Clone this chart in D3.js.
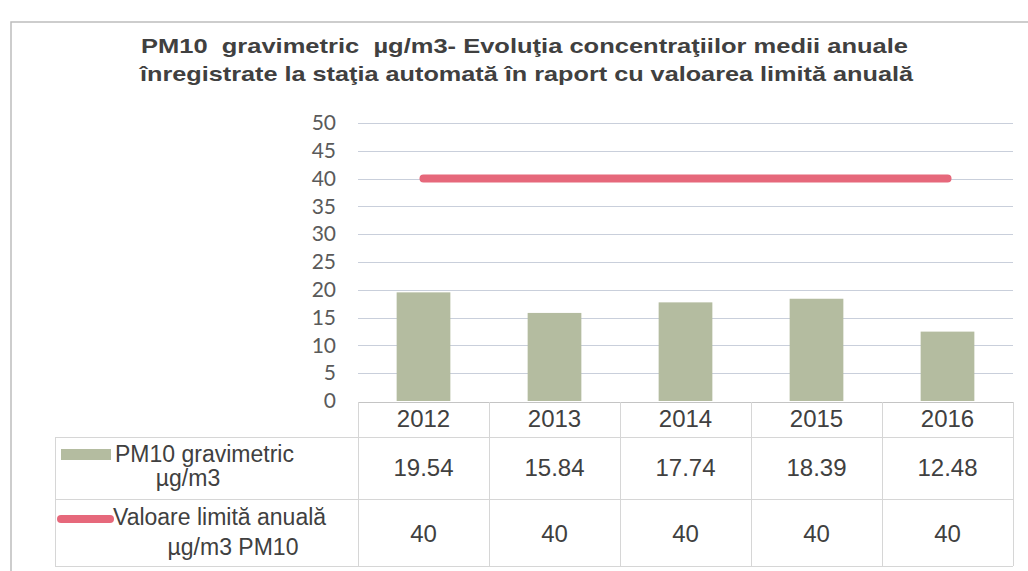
<!DOCTYPE html>
<html>
<head>
<meta charset="utf-8">
<script src="https://cdn.jsdelivr.net/npm/d3@7"></script>
<style>
  body { margin: 0; background: #fff; }
  svg { display: block; }
</style>
</head>
<body>
<div id="chart"></div>
<script>
// Data
const years = ['2012', '2013', '2014', '2015', '2016'];
const pm10Values = [19.54, 15.84, 17.74, 18.39, 12.48];
const limitValues = [40, 40, 40, 40, 40];
const yMax = 50;
const titleLines = [
    'PM10  gravimetric  µg/m3- Evoluţia concentraţiilor medii anuale',
    'înregistrate la staţia automată în raport cu valoarea limită anuală'
];
const pm10Label = ['PM10 gravimetric', 'µg/m3'];
const limitLabel = ['Valoare limită anuală', 'µg/m3 PM10'];

function renderChart(container) {
    const width = 1028;
    const height = 571;

    const plot = { left: 358, right: 1013, top: 123, bottom: 401 };
    const rows = { header: 437, first: 499, second: 566, labelLeft: 55 };

    const barColor = '#b4bca0';
    const lineColor = '#e6687b';
    const textColor = '#404040';
    const gridColor = '#c9cfdb';
    const tableColor = '#d6d6d6';
    const cellFont = '"Liberation Sans", Arial, sans-serif';

    const svg = d3.create('svg')
        .attr('width', width)
        .attr('height', height)
        .attr('viewBox', [0, 0, width, height]);

    // Chart frame (partly cut off in the scan)
    svg.append('path')
        .attr('d', `M11,${height} V22 H${width}`)
        .attr('fill', 'none')
        .attr('stroke', '#bdbdbd')
        .attr('stroke-width', 1.5);

    // Title - the scan is stretched sideways, so fit each line to its width
    const titleSpans = [[141, 908], [140, 913]];
    svg.append('g')
        .selectAll('text')
        .data(titleLines)
        .join('text')
        .attr('x', (d, i) => titleSpans[i][0])
        .attr('y', (d, i) => 53 + i * 28)
        .attr('textLength', (d, i) => titleSpans[i][1] - titleSpans[i][0])
        .attr('lengthAdjust', 'spacingAndGlyphs')
        .style('white-space', 'pre')
        .style('font-family', cellFont)
        .style('font-weight', 'bold')
        .style('font-size', '21px')
        .style('fill', textColor)
        .text(d => d);

    // Scales
    const x = d3.scaleBand()
        .domain(years)
        .range([plot.left, plot.right]);

    const y = d3.scaleLinear()
        .domain([0, yMax])
        .range([plot.bottom, plot.top]);

    const barWidth = x.bandwidth() * 0.41;

    // Gridlines
    svg.append('g')
        .selectAll('line')
        .data(y.ticks(10).filter(t => t > 0))
        .join('line')
        .attr('x1', plot.left)
        .attr('x2', plot.right)
        .attr('y1', d => Math.round(y(d)) + 0.5)
        .attr('y2', d => Math.round(y(d)) + 0.5)
        .attr('stroke', gridColor)
        .attr('stroke-width', 1);

    // Y axis labels
    const yAxis = svg.append('g')
        .attr('transform', `translate(${plot.left - 22},0)`)
        .call(d3.axisLeft(y).ticks(10).tickSize(0).tickPadding(0));
    yAxis.select('.domain').remove();
    yAxis.selectAll('text')
        .style('font-family', 'Lato, "Open Sans", sans-serif')
        .style('font-size', '21px')
        .style('fill', '#5a5a5a');

    // Bars
    svg.append('g')
        .selectAll('rect')
        .data(pm10Values)
        .join('rect')
        .attr('x', (d, i) => x(years[i]) + (x.bandwidth() - barWidth) / 2)
        .attr('y', d => y(d))
        .attr('width', barWidth)
        .attr('height', d => y(0) - y(d))
        .attr('fill', barColor);

    // Limit line
    const line = d3.line()
        .x((d, i) => x(years[i]) + x.bandwidth() / 2)
        .y(d => y(d));

    svg.append('path')
        .datum(limitValues)
        .attr('d', line)
        .attr('fill', 'none')
        .attr('stroke', lineColor)
        .attr('stroke-width', 8)
        .attr('stroke-linecap', 'round');

    // Data table
    const table = svg.append('g')
        .attr('stroke', tableColor)
        .attr('stroke-width', 1);

    // category axis / table top
    table.append('line')
        .attr('x1', plot.left).attr('x2', plot.right)
        .attr('y1', plot.bottom + 1.5).attr('y2', plot.bottom + 1.5)
        .attr('stroke', '#c4c4c4');

    [rows.header, rows.first, rows.second].forEach(ry => {
        table.append('line')
            .attr('x1', rows.labelLeft).attr('x2', plot.right)
            .attr('y1', ry + 0.5).attr('y2', ry + 0.5);
    });

    table.append('line')
        .attr('x1', rows.labelLeft + 0.5).attr('x2', rows.labelLeft + 0.5)
        .attr('y1', rows.header).attr('y2', rows.second);

    const colEdges = years.map(d => x(d)).concat([plot.right]);
    table.selectAll('line.col')
        .data(colEdges)
        .join('line')
        .attr('class', 'col')
        .attr('x1', d => Math.round(d) + 0.5)
        .attr('x2', d => Math.round(d) + 0.5)
        .attr('y1', plot.bottom + 1)
        .attr('y2', rows.second);

    // Year labels
    svg.append('g')
        .selectAll('text')
        .data(years)
        .join('text')
        .attr('x', d => x(d) + x.bandwidth() / 2)
        .attr('y', 427)
        .attr('text-anchor', 'middle')
        .style('font-family', cellFont)
        .style('font-size', '24px')
        .style('fill', textColor)
        .text(d => d);

    // Value rows
    const valueRows = [
        { values: pm10Values, y: 476, fmt: d3.format('.2f') },
        { values: limitValues, y: 542, fmt: d3.format('d') }
    ];
    valueRows.forEach(row => {
        svg.append('g')
            .selectAll('text')
            .data(row.values)
            .join('text')
            .attr('x', (d, i) => x(years[i]) + x.bandwidth() / 2)
            .attr('y', row.y)
            .attr('text-anchor', 'middle')
            .style('font-family', cellFont)
            .style('font-size', '24px')
            .style('fill', textColor)
            .text(d => row.fmt(d));
    });

    // Legend keys inside the table
    svg.append('rect')
        .attr('x', 61)
        .attr('y', 449)
        .attr('width', 50)
        .attr('height', 11)
        .attr('fill', barColor);

    svg.append('line')
        .attr('x1', 61).attr('x2', 110)
        .attr('y1', 519).attr('y2', 519)
        .attr('stroke', lineColor)
        .attr('stroke-width', 8)
        .attr('stroke-linecap', 'round');

    const labelText = (lines, positions) => {
        lines.forEach((t, i) => {
            svg.append('text')
                .attr('x', positions[i][0])
                .attr('y', positions[i][1])
                .attr('text-anchor', positions[i][2])
                .style('font-family', cellFont)
                .style('font-size', '23px')
                .style('fill', textColor)
                .text(t);
        });
    };

    labelText(pm10Label, [[115, 462, 'start'], [188, 486, 'middle']]);
    labelText(limitLabel, [[113, 525, 'start'], [233, 555, 'middle']]);

    container.appendChild(svg.node());
}

renderChart(document.getElementById('chart'));
</script>
</body>
</html>
